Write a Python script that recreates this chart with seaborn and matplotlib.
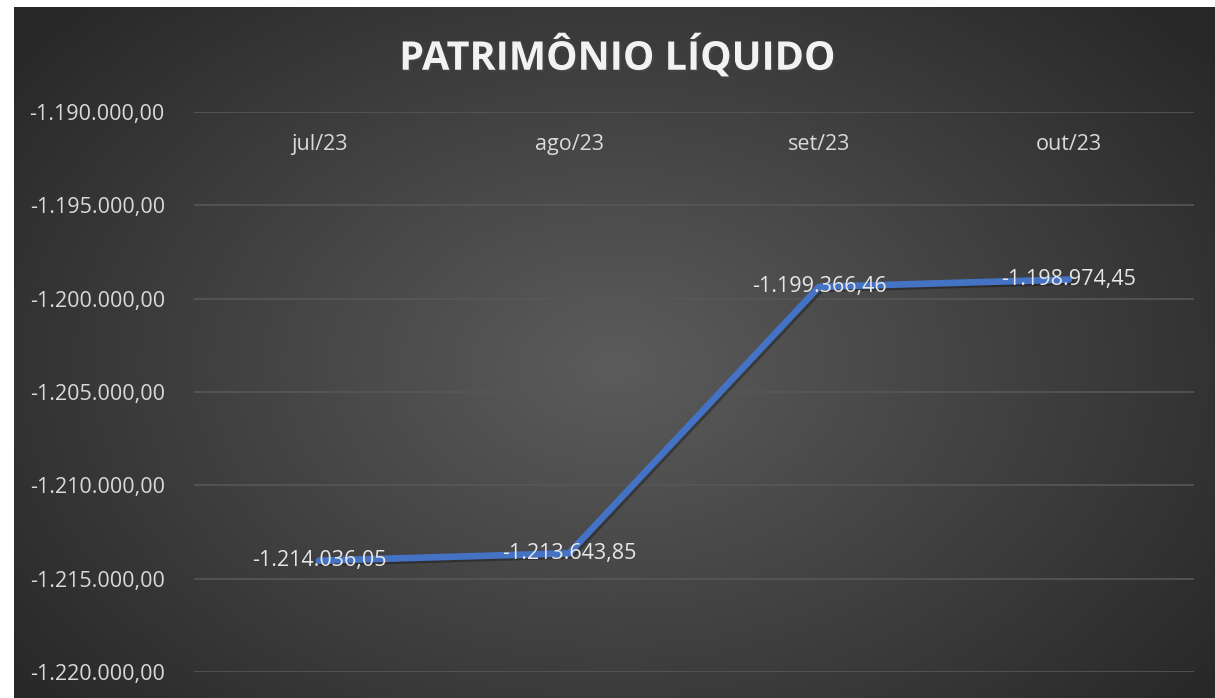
import numpy as np
import pandas as pd
import seaborn as sns
import matplotlib
matplotlib.use("Agg")
import matplotlib.pyplot as plt
import matplotlib.patheffects as pe
from matplotlib.ticker import FuncFormatter

# dados do gráfico
meses = ['jul/23', 'ago/23', 'set/23', 'out/23']
patrimonio = [-1214036.05, -1213643.85, -1199366.46, -1198974.45]
y_ticks = [-1220000, -1215000, -1210000, -1205000, -1200000, -1195000, -1190000]


def fmt_br(v, pos=None):
    s = f"{v:,.2f}"
    return s.replace(',', 'X').replace('.', ',').replace('X', '.')


df = pd.DataFrame({'mes': meses, 'valor': patrimonio})

sns.set_style("dark")
plt.rcParams['font.family'] = ['Open Sans', 'DejaVu Sans']

W, H = 1215, 698
fig = plt.figure(figsize=(W / 100, H / 100), dpi=100, facecolor='white')

# fundo com gradiente radial (estilo Excel escuro)
bg = fig.add_axes([14 / W, 0, (W - 14) / W, (H - 7) / H])
bg.set_axis_off()
gy, gx = np.mgrid[0:1:400j, 0:1:700j]
r = np.sqrt(((gx - 0.5) / 0.62) ** 2 + ((gy - 0.52) / 0.75) ** 2)
r = np.clip(r, 0, 1)
shade = 0.36 - 0.20 * r
bg.imshow(np.dstack([shade, shade, shade]), aspect='auto', extent=[0, 1, 0, 1])

ax = fig.add_axes([194 / W, 1 - 672 / H, 1000 / W, (672 - 112) / H])
ax.set_facecolor('none')

sns.lineplot(data=df, x='mes', y='valor', sort=False, color='#4472C4',
             linewidth=4.8, ax=ax, zorder=3,
             path_effects=[pe.SimpleLineShadow(offset=(1.5, -1.5), alpha=0.3),
                           pe.Normal()])

for i, v in enumerate(patrimonio):
    ax.text(i, v, fmt_br(v), ha='center', va='center', color='#e6e6e6',
            fontsize=15.5, zorder=4)

ax.set_xlim(-0.5, 3.5)
ax.set_ylim(-1220000, -1190000)
ax.set_yticks(y_ticks)
ax.yaxis.set_major_formatter(FuncFormatter(fmt_br))
ax.grid(axis='y', color='#575757', linewidth=1.2)
ax.grid(axis='x', visible=False)
for s in ax.spines.values():
    s.set_visible(False)

ax.xaxis.tick_top()
ax.tick_params(axis='x', length=0, pad=-31, colors='#d9d9d9', labelsize=15.5)
ax.tick_params(axis='y', length=0, pad=21, colors='#d9d9d9', labelsize=15.5)
ax.set_xlabel('')
ax.set_ylabel('')

fig.text(617 / W, 1 - 57 / H, 'PATRIMÔNIO LÍQUIDO', ha='center', va='center',
         color='#f2f2f2', fontsize=28.5, fontweight='bold',
         path_effects=[pe.withSimplePatchShadow(offset=(1.5, -1.5), alpha=0.5)])

fig.savefig('out.png', dpi=100, facecolor='white')
